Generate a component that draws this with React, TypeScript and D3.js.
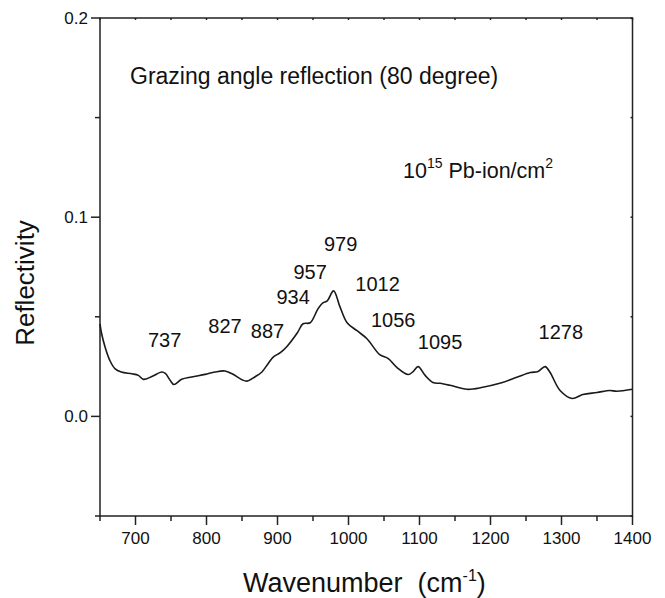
import React from "react";
import * as d3 from "d3";

const wavenumber = [650, 652, 657, 664, 671, 680, 695, 704, 711, 723, 737, 742, 749, 754, 765, 779, 798, 812, 826, 836, 850, 857, 868, 878, 887, 894, 904, 913, 928, 936, 946, 957, 964, 970, 979, 988, 998, 1012, 1026, 1044, 1056, 1068, 1084, 1091, 1098, 1108, 1119, 1129, 1143, 1167, 1189, 1213, 1237, 1256, 1267, 1277, 1284, 1298, 1315, 1330, 1350, 1368, 1378, 1400];
const reflectivity = [0.0465, 0.042, 0.035, 0.028, 0.024, 0.0223, 0.0214, 0.0206, 0.0186, 0.02, 0.0223, 0.0216, 0.018, 0.016, 0.0186, 0.0198, 0.0211, 0.0223, 0.0228, 0.0214, 0.0184, 0.0177, 0.0198, 0.0223, 0.0266, 0.0298, 0.032, 0.035, 0.042, 0.0465, 0.047, 0.054, 0.057, 0.058, 0.063, 0.055, 0.047, 0.043, 0.039, 0.031, 0.029, 0.0246, 0.021, 0.0225, 0.025, 0.0206, 0.017, 0.0166, 0.0156, 0.0136, 0.0146, 0.0166, 0.0196, 0.022, 0.0226, 0.025, 0.022, 0.013, 0.009, 0.011, 0.012, 0.013, 0.0126, 0.0136];

const peakLabels = ["737", "827", "887", "934", "957", "979", "1012", "1056", "1095", "1278"];
const peakLabelX = [741, 826, 886, 922, 946, 989, 1041, 1063, 1129, 1299];
const peakLabelY = [0.0347, 0.0417, 0.0392, 0.0563, 0.0688, 0.0829, 0.0628, 0.0447, 0.0337, 0.0387];

const xMajorTicks = [700, 800, 900, 1000, 1100, 1200, 1300, 1400];
const yMajorTicks = [0.0, 0.1, 0.2];
const yTickLabels = ["0.0", "0.1", "0.2"];

const W = 665;
const H = 598;
const left = 100;
const right = 632.5;
const top = 18;
const bottom = 516;
const FONT = "Liberation Sans, Arial, sans-serif";

export default function App() {
  const x = d3.scaleLinear().domain([650, 1400]).range([left, right]);
  const y = d3.scaleLinear().domain([-0.05, 0.2]).range([bottom, top]);
  const line = d3
    .line<number>()
    .x((_, i) => x(wavenumber[i]))
    .y((d) => y(d))
    .curve(d3.curveCatmullRom.alpha(0.5));
  const path = line(reflectivity) || "";
  const xMinor = d3.range(650, 1401, 50);
  const yMinor = d3.range(-0.05, 0.2001, 0.05);
  const stroke = "#222";

  return (
    <svg width={W} height={H} style={{ position: "absolute", left: 0, top: 0, background: "#fff" }}>
      <rect x={0} y={0} width={W} height={H} fill="#fff" />
      {/* frame */}
      <rect x={left} y={top} width={right - left} height={bottom - top} fill="none" stroke={stroke} strokeWidth={1.5} />
      {/* bottom ticks */}
      {xMinor.map((v) => {
        const major = xMajorTicks.includes(v);
        return (
          <g key={"xb" + v}>
            <line x1={x(v)} x2={x(v)} y1={bottom} y2={bottom + (major ? 9 : 5)} stroke={stroke} strokeWidth={1.5} />
            <line x1={x(v)} x2={x(v)} y1={top} y2={top + 2} stroke={stroke} strokeWidth={1.5} />
          </g>
        );
      })}
      {xMajorTicks.map((v) => (
        <text key={"xl" + v} x={x(v)} y={bottom + 28} textAnchor="middle" fontFamily={FONT} fontSize={17} fill="#111">
          {v}
        </text>
      ))}
      {/* left ticks */}
      {yMinor.map((v) => {
        const major = yMajorTicks.some((m) => Math.abs(m - v) < 1e-6);
        return (
          <g key={"yl" + v.toFixed(2)}>
            <line x1={left} x2={left - (major ? 9 : 5)} y1={y(v)} y2={y(v)} stroke={stroke} strokeWidth={1.5} />
            <line x1={right} x2={right - 2} y1={y(v)} y2={y(v)} stroke={stroke} strokeWidth={1.5} />
          </g>
        );
      })}
      {yMajorTicks.map((v, i) => (
        <text key={"ylab" + i} x={left - 12} y={y(v) + 6} textAnchor="end" fontFamily={FONT} fontSize={17} fill="#111">
          {yTickLabels[i]}
        </text>
      ))}
      {/* axis titles */}
      <text x={243} y={592} fontFamily={FONT} fontSize={27} fill="#111" style={{ whiteSpace: "pre" }}>
        {"Wavenumber  (cm"}
        <tspan dy={-11} fontSize={16}>-1</tspan>
        <tspan dy={11}>)</tspan>
      </text>
      <text
        transform={`translate(${34},${283}) rotate(-90)`}
        textAnchor="middle"
        fontFamily={FONT}
        fontSize={26}
        fill="#111"
      >
        Reflectivity
      </text>
      {/* data line */}
      <path d={path} fill="none" stroke="#1a1a1a" strokeWidth={1.6} />
      {/* annotations */}
      <text x={130} y={84} fontFamily={FONT} fontSize={23} fill="#111">
        Grazing angle reflection (80 degree)
      </text>
      <text x={403} y={178} fontFamily={FONT} fontSize={21.5} fill="#111" style={{ whiteSpace: "pre" }}>
        {"10"}
        <tspan dy={-10} fontSize={14}>15</tspan>
        <tspan dy={10}>{" Pb-ion/cm"}</tspan>
        <tspan dy={-10} fontSize={14}>2</tspan>
      </text>
      {peakLabels.map((t, i) => (
        <text key={t} x={x(peakLabelX[i])} y={y(peakLabelY[i])} textAnchor="middle" fontFamily={FONT} fontSize={20} fill="#111">
          {t}
        </text>
      ))}
    </svg>
  );
}
